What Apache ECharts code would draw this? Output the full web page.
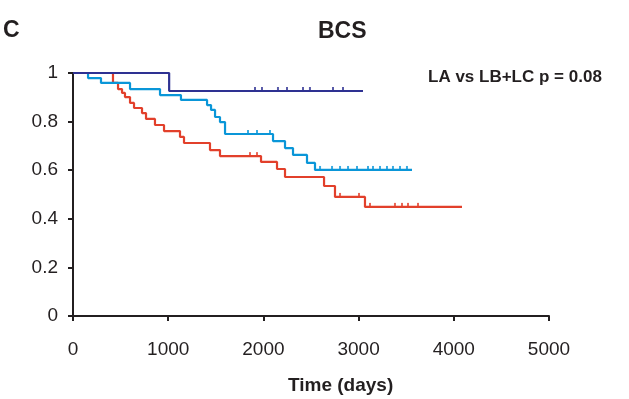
<!DOCTYPE html>
<html>
<head>
<meta charset="utf-8">
<script src="https://cdn.jsdelivr.net/npm/echarts@6/dist/echarts.min.js"></script>
<style>
html,body{margin:0;padding:0;background:#fff;}
#chart{width:629px;height:399px;}
</style>
</head>
<body>
<div id="chart"></div>
<script>
// Kaplan-Meier step data (time in days, survival proportion)
const laTimes = [0, 1010, 3046];
const laSurv  = [1, 0.926, 0.926];
const laCensorTimes = [1912, 1985, 2153, 2248, 2416, 2489, 2731, 2836];
const laCensorSurv  = [0.926, 0.926, 0.926, 0.926, 0.926, 0.926, 0.926, 0.926];

const lbTimes = [0, 158, 294, 599, 914, 1134, 1408, 1450, 1492, 1544, 1597, 2101, 2227, 2311, 2458, 2542, 3561];
const lbSurv  = [1, 0.979, 0.959, 0.934, 0.909, 0.889, 0.868, 0.848, 0.819, 0.798, 0.749, 0.720, 0.691, 0.663, 0.630, 0.601, 0.601];
const lbCensorTimes = [1838, 1933, 2069, 2595, 2721, 2805, 2889, 2983, 3099, 3151, 3225, 3298, 3361, 3435, 3508];
const lbCensorSurv  = [0.749, 0.749, 0.749, 0.601, 0.601, 0.601, 0.601, 0.601, 0.601, 0.601, 0.601, 0.601, 0.601, 0.601, 0.601];

const lcTimes = [0, 420, 473, 515, 546, 599, 641, 725, 767, 861, 956, 1124, 1166, 1439, 1544, 1975, 2143, 2227, 2637, 2752, 3067, 4086];
const lcSurv  = [1, 0.959, 0.934, 0.918, 0.901, 0.877, 0.856, 0.835, 0.811, 0.786, 0.761, 0.737, 0.712, 0.683, 0.658, 0.634, 0.605, 0.572, 0.535, 0.490, 0.449, 0.449];
const lcCensorTimes = [1859, 1933, 2805, 3004, 3120, 3382, 3456, 3519, 3624];
const lcCensorSurv  = [0.658, 0.658, 0.490, 0.490, 0.449, 0.449, 0.449, 0.449, 0.449];

const xTicks = [0, 1000, 2000, 3000, 4000, 5000];
const yTicks = [0, 0.2, 0.4, 0.6, 0.8, 1];

const colLA = '#2e3192';
const colLB = '#0a96d8';
const colLC = '#e2402b';
const axisCol = '#231f20';
const font = '"Liberation Sans", Arial, sans-serif';

function pairs(t, s) { return t.map((v, i) => [v, s[i]]); }

function stepSeries(t, s, color, z) {
  return {
    type: 'line', step: 'end', data: pairs(t, s), showSymbol: false, symbol: 'none',
    lineStyle: { color: color, width: 2.2 }, z: z, animation: false, silent: true
  };
}
function censorSeries(t, s, color, z) {
  return {
    type: 'scatter', data: pairs(t, s), symbol: 'rect', symbolSize: [2, 4],
    symbolOffset: [0, -2], itemStyle: { color: color }, z: z, animation: false, silent: true
  };
}

const chart = echarts.init(document.getElementById('chart'), null, { renderer: 'canvas' });
chart.setOption({
  backgroundColor: '#fff',
  animation: false,
  title: [
    { text: 'BCS', left: 318, top: 20, padding: 0,
      textStyle: { fontFamily: font, fontWeight: 'bold', fontSize: 23, color: axisCol } },
    { text: 'C', left: 3, top: 19, padding: 0,
      textStyle: { fontFamily: font, fontWeight: 'bold', fontSize: 23, color: axisCol } },
    { text: 'LA vs LB+LC p = 0.08', left: 428, top: 69, padding: 0,
      textStyle: { fontFamily: font, fontWeight: 'bold', fontSize: 17, color: axisCol } },
    { text: 'Time (days)', left: 288, top: 376, padding: 0,
      textStyle: { fontFamily: font, fontWeight: 'bold', fontSize: 19, color: axisCol } }
  ],
  grid: { left: 73, right: 80, top: 73, bottom: 83, containLabel: false },
  xAxis: {
    type: 'value', min: 0, max: 5000, interval: 1000,
    axisLine: { onZero: false, lineStyle: { color: axisCol, width: 2 } },
    axisTick: { show: true, inside: false, length: 5, lineStyle: { color: axisCol, width: 2 } },
    splitLine: { show: false },
    axisLabel: { margin: 24, fontFamily: font, fontSize: 19, color: axisCol,
      formatter: v => xTicks.includes(v) ? String(v) : '' }
  },
  yAxis: {
    type: 'value', min: 0, max: 1, interval: 0.2,
    axisLine: { show: true, onZero: false, lineStyle: { color: axisCol, width: 2 } },
    axisTick: { show: true, inside: false, length: 5, lineStyle: { color: axisCol, width: 2 } },
    splitLine: { show: false },
    axisLabel: { margin: 15, fontFamily: font, fontSize: 19, color: axisCol,
      formatter: v => { const t = yTicks.find(y => Math.abs(y - v) < 1e-9); return t === undefined ? '' : String(t); } }
  },
  series: [
    stepSeries(lcTimes, lcSurv, colLC, 2),
    censorSeries(lcCensorTimes, lcCensorSurv, colLC, 2),
    stepSeries(lbTimes, lbSurv, colLB, 3),
    censorSeries(lbCensorTimes, lbCensorSurv, colLB, 3),
    stepSeries(laTimes, laSurv, colLA, 4),
    censorSeries(laCensorTimes, laCensorSurv, colLA, 4)
  ]
});
</script>
</body>
</html>
